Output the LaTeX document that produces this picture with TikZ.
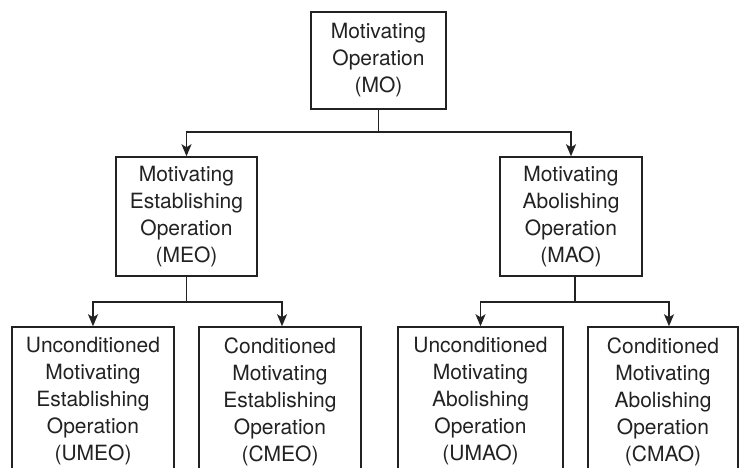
\documentclass[tikz,border=0pt]{standalone}
\usepackage{fontspec}
\setmainfont{TeX Gyre Heros}
\usetikzlibrary{arrows.meta}
\definecolor{ink}{HTML}{222222}
\begin{document}
\begin{tikzpicture}[x=1pt,y=-1pt,
  box/.style={draw=ink, line width=1.5pt, text=ink, align=center,
    inner sep=0pt, font=\fontsize{21}{27}\selectfont},
  link/.style={draw=ink, line width=1.5pt},
  arr/.style={link, -{Stealth[length=12pt,width=10pt,inset=3pt]}}]
\clip (0,0) rectangle (739,467);

% hierarchy of motivating operations
\node[box, minimum width=135pt, minimum height=97pt] (mo) at (378.5,60.5)
  {Motivating\\Operation\\(MO)};

\node[box, minimum width=141pt, minimum height=119pt] (meo) at (186.5,216.5)
  {Motivating\\Establishing\\Operation\\(MEO)};
\node[box, minimum width=142pt, minimum height=119pt] (mao) at (571,216.5)
  {Motivating\\Abolishing\\Operation\\(MAO)};

\node[box, minimum width=162pt, minimum height=149pt] (umeo) at (93,401.5)
  {Unconditioned\\Motivating\\Establishing\\Operation\\(UMEO)};
\node[box, minimum width=162pt, minimum height=149pt] (cmeo) at (280,401.5)
  {Conditioned\\Motivating\\Establishing\\Operation\\(CMEO)};
\node[box, minimum width=165pt, minimum height=149pt] (umao) at (480.5,401.5)
  {Unconditioned\\Motivating\\Abolishing\\Operation\\(UMAO)};
\node[box, minimum width=150pt, minimum height=149pt] (cmao) at (663,401.5)
  {Conditioned\\Motivating\\Abolishing\\Operation\\(CMAO)};

% branch points
\coordinate (j1) at (mo.south |- 0,132);
\coordinate (j2) at (meo.south |- 0,302);
\coordinate (j3) at ([xshift=4pt]mao.south |- 0,302);

% connectors
\draw[link] (mo.south) -- (j1);
\draw[arr] (j1) -| (meo.north);
\draw[arr] (j1) -| (mao.north);

\draw[link] (meo.south) -- (j2);
\draw[arr] (j2) -| (umeo.north);
\draw[arr] (j2) -| ([xshift=2pt]cmeo.north);

\draw[link] ([xshift=4pt]mao.south) -- (j3);
\draw[arr] (j3) -| (umao.north);
\draw[arr] (j3) -| ([xshift=6pt]cmao.north);
\end{tikzpicture}
\end{document}
